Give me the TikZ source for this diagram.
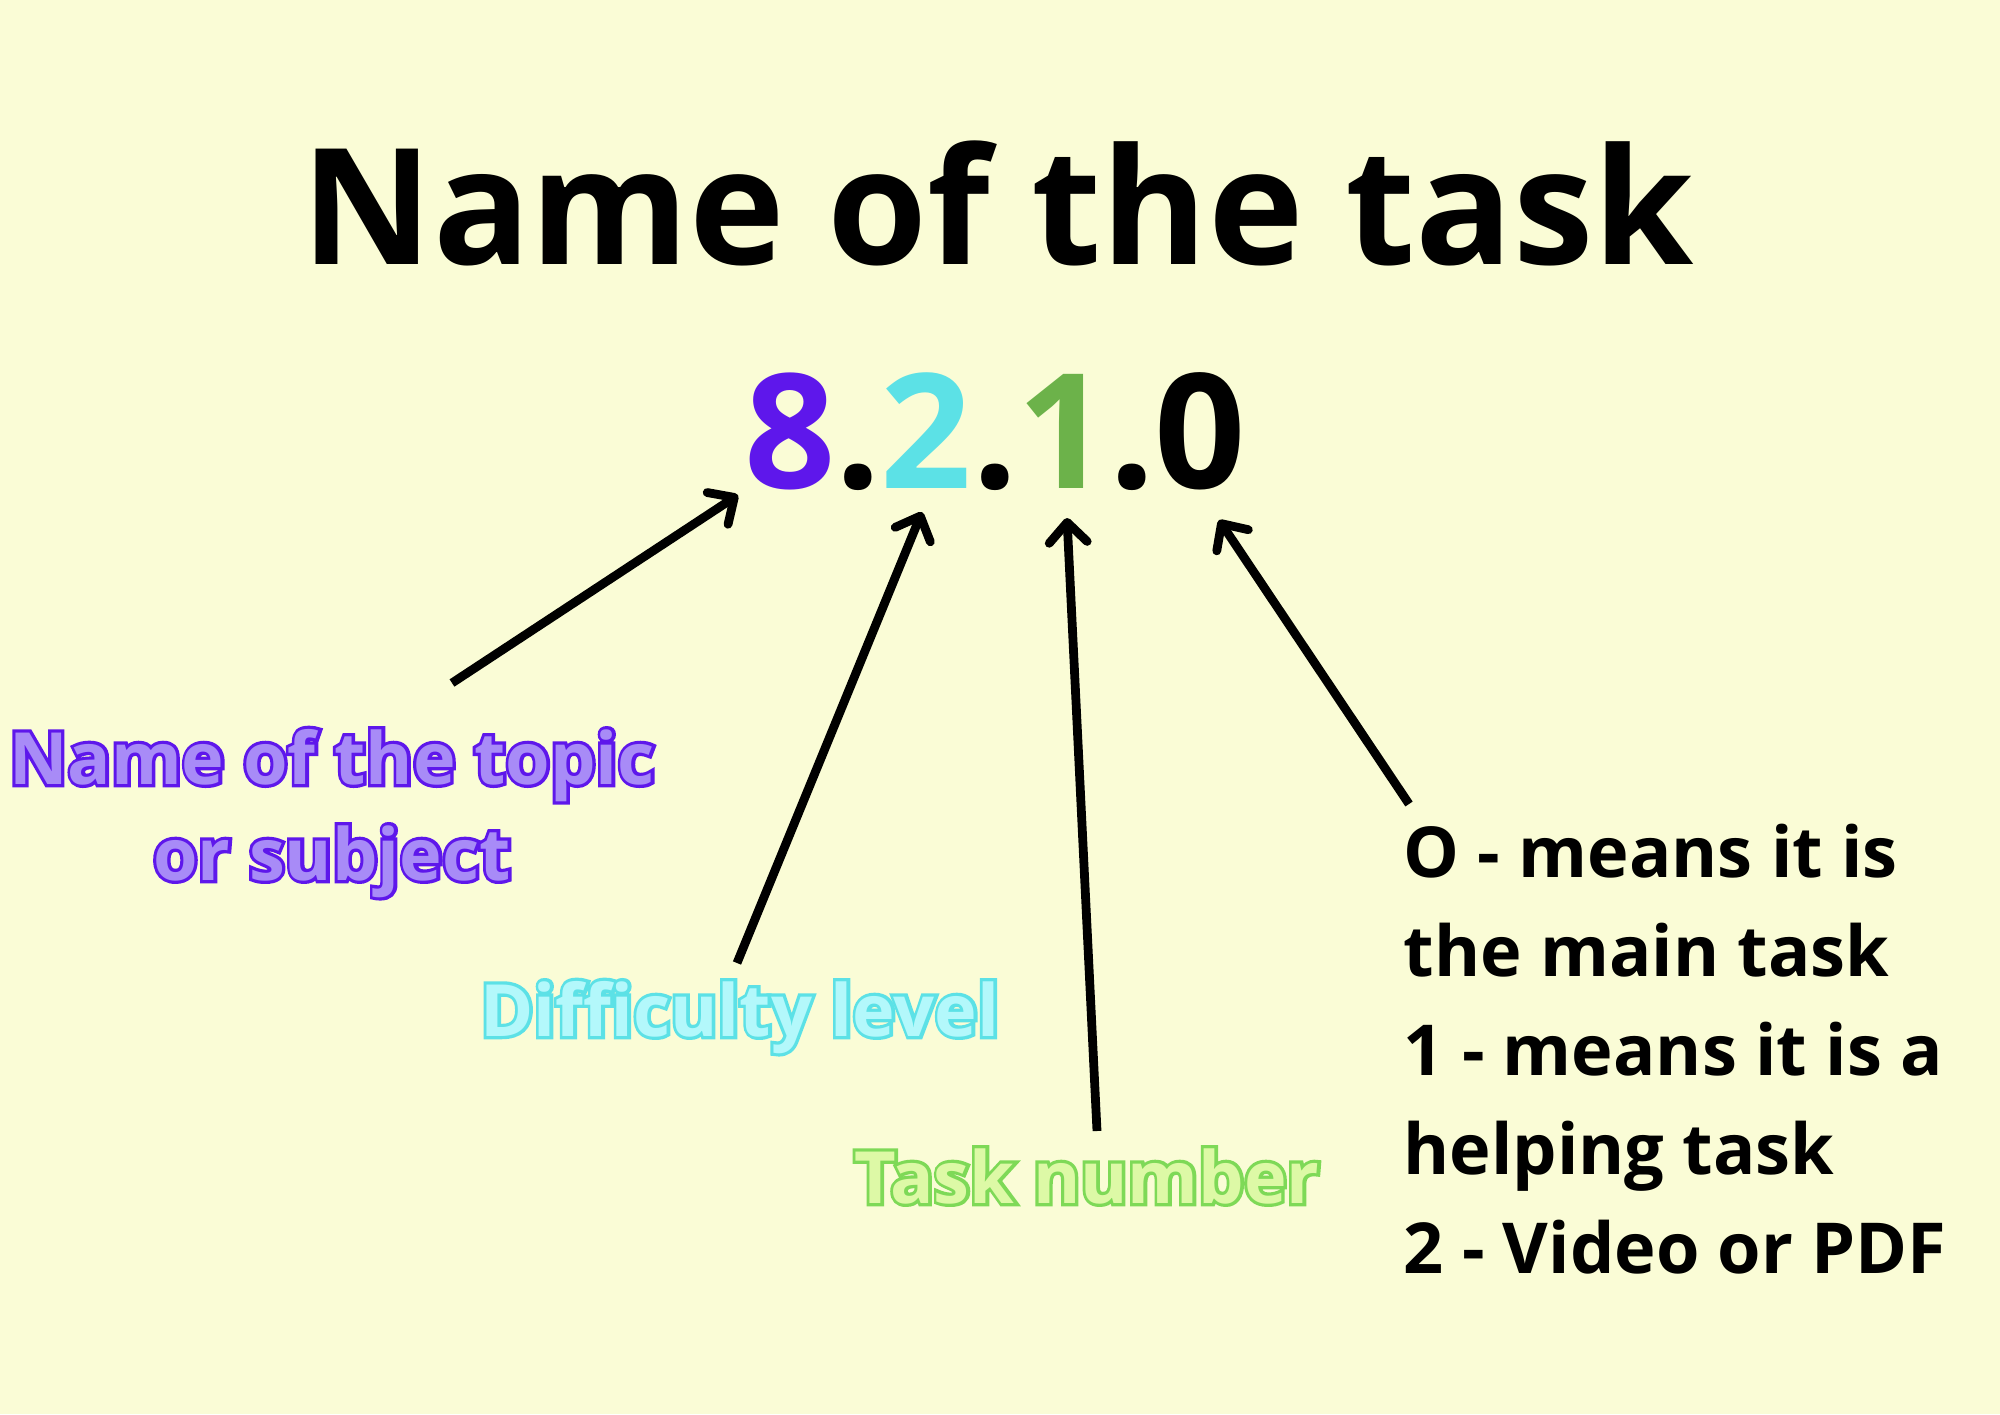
\documentclass[tikz,border=0pt]{standalone}
\usepackage{fontspec}
\setmainfont{Open Sans}
\newfontfamily\strokefont{Open Sans Bold}[FakeBold=9]
\usepackage{tikz}
\usetikzlibrary{arrows.meta,positioning}
\definecolor{bgyellow}{HTML}{FAFCD6}
\definecolor{topicpurple}{HTML}{5E17EB}
\definecolor{topiclight}{HTML}{A88BF7}
\definecolor{levelcyan}{HTML}{5CE1E6}
\definecolor{levellight}{HTML}{B3F8FB}
\definecolor{numgreen}{HTML}{6CB24A}
\definecolor{labelgreen}{HTML}{7ED957}
\definecolor{greenlight}{HTML}{DDF9A6}
\newcommand\outlined[3]{\makebox[0pt][l]{\color{#1}\strokefont #3}{\color{#2}\bfseries #3}}

\begin{document}
\begin{tikzpicture}[
  big/.style={font=\fontsize{46}{50}\selectfont\bfseries,inner sep=0pt,anchor=base},
  lbl/.style={font=\fontsize{20.5}{27.3}\selectfont,inner sep=0pt,anchor=base,align=center},
  note/.style={font=\fontsize{20}{28.1}\selectfont\bfseries,inner sep=0pt,anchor=base west,align=left},
  arr/.style={-{Straight Barb[length=2mm,width=3.8mm,round]},line width=2.5pt}]
\fill[bgyellow] (0,0) rectangle (20,-14.14);
\useasboundingbox (0,0) rectangle (20,-14.14);
\node[big] (title) at (9.98,-2.64) {Name of the task};
\node[big,font=\fontsize{45.5}{50}\selectfont\bfseries] (code) at (9.95,-4.88)
  {{\color{topicpurple}8}.{\color{levelcyan}2}.{\color{numgreen}1}.0};
\node[lbl] (topic) at (3.32,-8.80) {\outlined{topicpurple}{topiclight}{Name of the topic}\\
  \outlined{topicpurple}{topiclight}{or subject}};
\node[lbl] (level) at (7.40,-10.36) {\outlined{levelcyan}{levellight}{Difficulty level}};
\node[lbl] (number) at (10.87,-12.03) {\outlined{labelgreen}{greenlight}{Task number}};
\node[note] (meaning) at (14.03,-12.73) {O - means it is\\the main task\\1 - means it is a\\helping task\\2 - Video or PDF};
\coordinate (t8) at (7.38,-4.95);
\coordinate (t2) at (9.22,-5.12);
\coordinate (t1) at (10.67,-5.18);
\coordinate (t0) at (12.19,-5.20);
\coordinate (s8) at (4.52,-6.83);
\coordinate (s2) at (7.37,-9.63);
\coordinate (s1) at (10.97,-11.31);
\coordinate (s0) at (14.09,-8.04);
\draw[arr] (s8) -- (t8);
\draw[arr] (s2) -- (t2);
\draw[arr] (s1) -- (t1);
\draw[arr] (s0) -- (t0);
\end{tikzpicture}
\end{document}
